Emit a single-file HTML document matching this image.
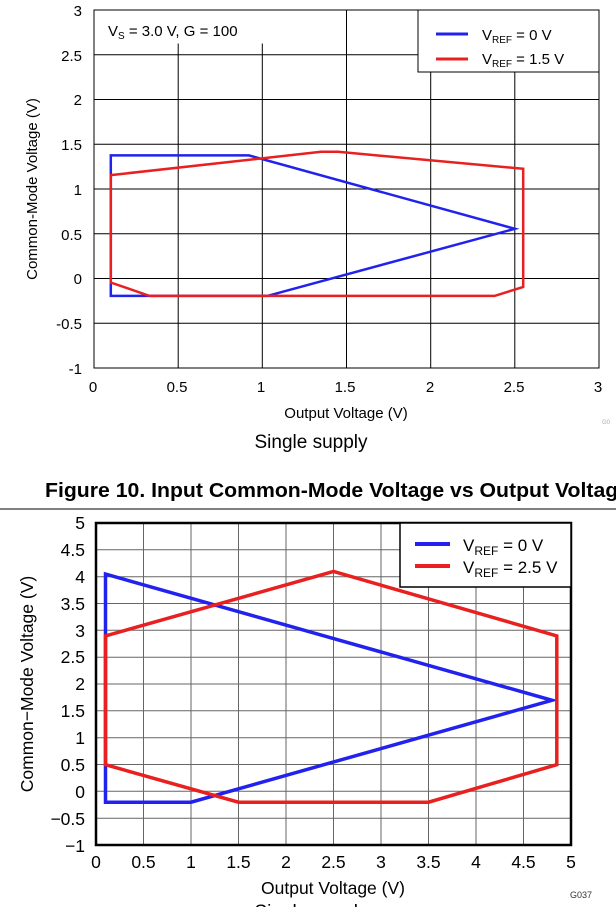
<!DOCTYPE html>
<html><head><style>
body{margin:0;background:#fff;width:616px;height:907px;overflow:hidden}
svg{display:block}
text{font-family:"Liberation Sans",Arial,sans-serif}
</style></head><body>
<svg width="616" height="907" viewBox="0 0 616 907">
<!-- TOP CHART -->
<g stroke="#000" stroke-width="1">
<line x1="178.2" y1="10" x2="178.2" y2="368"/><line x1="262.3" y1="10" x2="262.3" y2="368"/>
<line x1="346.5" y1="10" x2="346.5" y2="368"/><line x1="430.7" y1="10" x2="430.7" y2="368"/>
<line x1="514.8" y1="10" x2="514.8" y2="368"/>
<line x1="94" y1="54.75" x2="599" y2="54.75"/><line x1="94" y1="99.5" x2="599" y2="99.5"/>
<line x1="94" y1="144.25" x2="599" y2="144.25"/><line x1="94" y1="189" x2="599" y2="189"/>
<line x1="94" y1="233.75" x2="599" y2="233.75"/><line x1="94" y1="278.5" x2="599" y2="278.5"/>
<line x1="94" y1="323.25" x2="599" y2="323.25"/>
</g>
<rect x="94" y="10" width="505" height="358" fill="none" stroke="#000" stroke-width="1"/>
<rect x="94.5" y="10.5" width="176" height="33" fill="#fff"/>
<text x="108" y="36" font-size="15">V<tspan font-size="10" dy="3">S</tspan><tspan dy="-3"> = 3.0 V, G = 100</tspan></text>
<rect x="418" y="10" width="181" height="62" fill="#fff" stroke="#000" stroke-width="1"/>
<line x1="436" y1="34" x2="468" y2="34" stroke="#2222ee" stroke-width="3"/>
<line x1="436" y1="59" x2="468" y2="59" stroke="#e82020" stroke-width="3"/>
<text x="482" y="40" font-size="15">V<tspan font-size="10" dy="3">REF</tspan><tspan dy="-3"> = 0 V</tspan></text>
<text x="482" y="64" font-size="15">V<tspan font-size="10" dy="3">REF</tspan><tspan dy="-3"> = 1.5 V</tspan></text>
<polygon points="110.8,295.9 110.8,155.4 248.9,155.4 514.8,228.8 267.4,295.9" fill="none" stroke="#2222ee" stroke-width="2.5"/>
<polygon points="110.8,175.1 321.2,151.8 338.1,151.8 523.2,168.8 523.2,287 494.6,295.9 149.5,295.9 110.8,282.5" fill="none" stroke="#e82020" stroke-width="2.5"/>
<g font-size="15" text-anchor="end">
<text x="82" y="16">3</text><text x="82" y="61">2.5</text><text x="82" y="105">2</text>
<text x="82" y="150">1.5</text><text x="82" y="195">1</text><text x="82" y="240">0.5</text>
<text x="82" y="284">0</text><text x="82" y="329">-0.5</text><text x="82" y="374">-1</text>
</g>
<g font-size="15" text-anchor="middle">
<text x="93" y="392">0</text><text x="177" y="392">0.5</text><text x="261" y="392">1</text>
<text x="345" y="392">1.5</text><text x="430" y="392">2</text><text x="514" y="392">2.5</text><text x="598" y="392">3</text>
</g>
<text x="346" y="418" font-size="15" text-anchor="middle">Output Voltage (V)</text>
<text transform="translate(37,189) rotate(-90)" font-size="15" text-anchor="middle">Common-Mode Voltage (V)</text>
<text x="602" y="424" font-size="6" fill="#aaa">G0</text>
<text x="311" y="448" font-size="19" text-anchor="middle">Single supply</text>
<!-- TITLE -->
<text x="45" y="497" font-size="20" font-weight="bold" textLength="585" lengthAdjust="spacingAndGlyphs">Figure 10. Input Common-Mode Voltage vs Output Voltage</text>
<line x1="0" y1="509" x2="616" y2="509" stroke="#000" stroke-width="1"/>
<!-- BOTTOM CHART -->
<g stroke="#666" stroke-width="1">
<line x1="143.5" y1="523" x2="143.5" y2="845"/><line x1="191" y1="523" x2="191" y2="845"/>
<line x1="238.5" y1="523" x2="238.5" y2="845"/><line x1="286" y1="523" x2="286" y2="845"/>
<line x1="333.5" y1="523" x2="333.5" y2="845"/><line x1="381" y1="523" x2="381" y2="845"/>
<line x1="428.5" y1="523" x2="428.5" y2="845"/><line x1="476" y1="523" x2="476" y2="845"/>
<line x1="523.5" y1="523" x2="523.5" y2="845"/>
<line x1="96" y1="549.8" x2="571" y2="549.8"/><line x1="96" y1="576.7" x2="571" y2="576.7"/>
<line x1="96" y1="603.5" x2="571" y2="603.5"/><line x1="96" y1="630.3" x2="571" y2="630.3"/>
<line x1="96" y1="657.2" x2="571" y2="657.2"/><line x1="96" y1="684" x2="571" y2="684"/>
<line x1="96" y1="710.8" x2="571" y2="710.8"/><line x1="96" y1="737.7" x2="571" y2="737.7"/>
<line x1="96" y1="764.5" x2="571" y2="764.5"/><line x1="96" y1="791.3" x2="571" y2="791.3"/>
<line x1="96" y1="818.2" x2="571" y2="818.2"/>
</g>
<rect x="96" y="523" width="475" height="322" fill="none" stroke="#000" stroke-width="2.5"/>
<rect x="400" y="523" width="171" height="64" fill="#fff" stroke="#000" stroke-width="1.5"/>
<line x1="415" y1="544" x2="450" y2="544" stroke="#2222ee" stroke-width="4"/>
<line x1="415" y1="566" x2="450" y2="566" stroke="#e82020" stroke-width="4"/>
<text x="463" y="551" font-size="17">V<tspan font-size="12" dy="4">REF</tspan><tspan dy="-4"> = 0 V</tspan></text>
<text x="463" y="573" font-size="17">V<tspan font-size="12" dy="4">REF</tspan><tspan dy="-4"> = 2.5 V</tspan></text>
<polygon points="105.5,802.2 105.5,574.1 552,700.3 191,802.2" fill="none" stroke="#2222ee" stroke-width="3.5"/>
<polygon points="105.5,635.9 333.5,571.5 556.8,635.9 556.8,764.7 428.5,802.2 238.5,802.2 105.5,764.7" fill="none" stroke="#e82020" stroke-width="3.5"/>
<g font-size="17.5" text-anchor="end">
<text x="85" y="529">5</text><text x="85" y="556">4.5</text><text x="85" y="583">4</text>
<text x="85" y="610">3.5</text><text x="85" y="637">3</text><text x="85" y="663">2.5</text>
<text x="85" y="690">2</text><text x="85" y="717">1.5</text><text x="85" y="744">1</text>
<text x="85" y="771">0.5</text><text x="85" y="798">0</text><text x="85" y="825">−0.5</text><text x="85" y="852">−1</text>
</g>
<g font-size="17.5" text-anchor="middle">
<text x="96" y="868">0</text><text x="143.5" y="868">0.5</text><text x="191" y="868">1</text>
<text x="238.5" y="868">1.5</text><text x="286" y="868">2</text><text x="333.5" y="868">2.5</text>
<text x="381" y="868">3</text><text x="428.5" y="868">3.5</text><text x="476" y="868">4</text>
<text x="523.5" y="868">4.5</text><text x="571" y="868">5</text>
</g>
<text x="333" y="894" font-size="17.5" text-anchor="middle">Output Voltage (V)</text>
<text x="570" y="898" font-size="9" fill="#333">G037</text>
<text transform="translate(33,684) rotate(-90)" font-size="17.5" text-anchor="middle">Common−Mode Voltage (V)</text>
<text x="311" y="918" font-size="19" text-anchor="middle">Single supply</text>
</svg>
</body></html>
